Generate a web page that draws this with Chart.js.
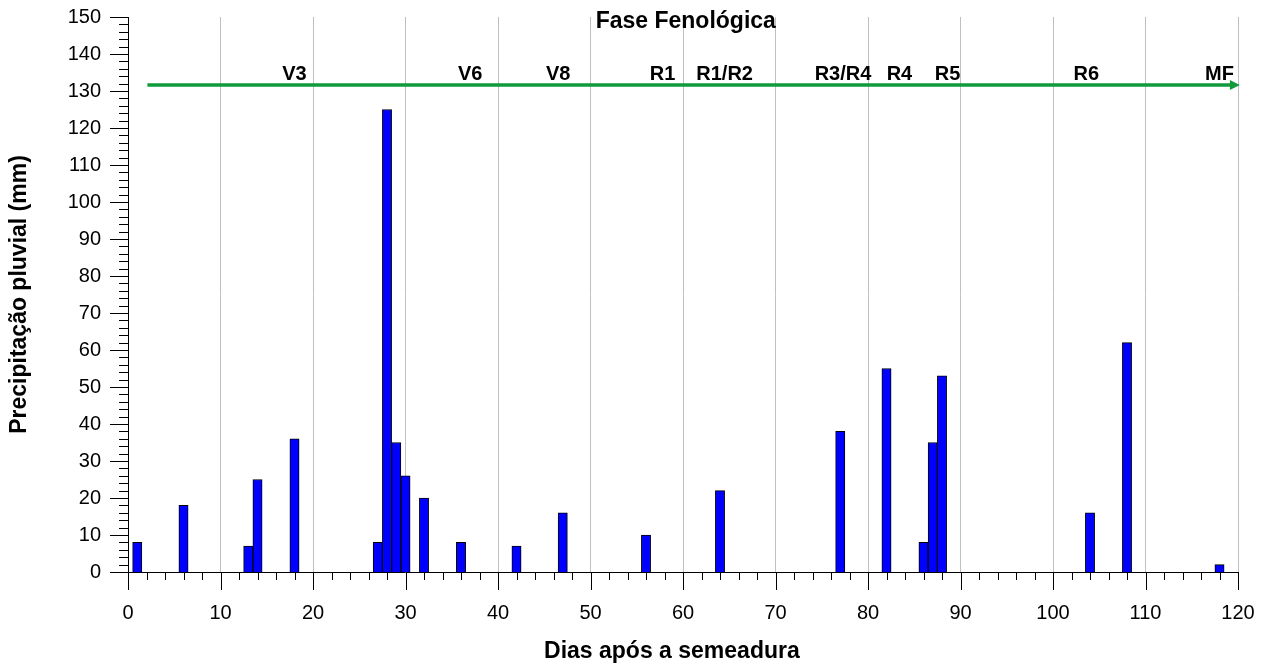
<!DOCTYPE html>
<html>
<head>
<meta charset="utf-8">
<script src="https://cdn.jsdelivr.net/npm/chart.js@4"></script>
<style>
  html, body { margin: 0; padding: 0; background: #fff; }
  #wrap { width: 1269px; height: 666px; }
</style>
</head>
<body>
<div id="wrap"><canvas id="rainChart" width="1269" height="666"></canvas></div>
<script>
// Rainfall per day after sowing (mm)
const rainDays = [1, 6, 13, 14, 18, 27, 28, 29, 30, 32, 36, 42, 47, 56, 64, 77, 82, 86, 87, 88, 104, 108, 118];
const rainMm = [8, 18, 7, 25, 36, 8, 125, 35, 26, 20, 8, 7, 16, 10, 22, 38, 55, 8, 35, 53, 16, 62, 2];

// Phenological stages along the arrow
const phaseLabels = ["V3", "V6", "V8", "R1", "R1/R2", "R3/R4", "R4", "R5", "R6", "MF"];
const phaseDays = [18, 37, 46.5, 57.8, 64.5, 77.3, 83.4, 88.6, 103.6, 118];
const phaseLabelY = 134.5;
const arrowStart = 2.1;
const arrowEnd = 120.2;
const arrowY = 131.6;
const phaseTitle = "Fase Fenológica";
const xTitle = "Dias após a semeadura";

const FONT = "'Liberation Sans', Arial, sans-serif";
Chart.defaults.font.family = FONT;
Chart.defaults.color = "#000";

// major/minor tick marks drawn outside the axes
const tickMarks = {
  id: "tickMarks",
  afterDraw(chart) {
    const { ctx, scales: { x, y } } = chart;
    ctx.save();
    ctx.strokeStyle = "#000";
    ctx.lineWidth = 1;
    ctx.beginPath();
    x.ticks.forEach((t) => {
      const px = Math.round(x.getPixelForValue(t.value)) + 0.5;
      const len = t.value % 10 === 0 ? 18 : 8;
      ctx.moveTo(px, y.bottom);
      ctx.lineTo(px, y.bottom + len);
    });
    y.ticks.forEach((t) => {
      const py = Math.round(y.getPixelForValue(t.value)) + 0.5;
      const len = t.value % 10 === 0 ? 18 : 9;
      ctx.moveTo(x.left, py);
      ctx.lineTo(x.left - len, py);
    });
    ctx.stroke();

    // x axis title, a bit left of the plot centre
    ctx.fillStyle = "#000";
    ctx.font = "bold 23px " + FONT;
    ctx.textAlign = "center";
    ctx.textBaseline = "middle";
    ctx.fillText(xTitle, x.getPixelForValue(58.8), 652);
    ctx.restore();
  },
};

// green stage arrow with labels
const phaseArrow = {
  id: "phaseArrow",
  afterDatasetsDraw(chart) {
    const { ctx, scales: { x, y } } = chart;
    const x0 = x.getPixelForValue(arrowStart);
    const x1 = x.getPixelForValue(arrowEnd);
    const ay = y.getPixelForValue(arrowY);
    ctx.save();
    ctx.strokeStyle = "#109a3c";
    ctx.fillStyle = "#109a3c";
    ctx.lineWidth = 3.5;
    ctx.beginPath();
    ctx.moveTo(x0, ay);
    ctx.lineTo(x1 - 8, ay);
    ctx.stroke();
    ctx.beginPath();
    ctx.moveTo(x1, ay);
    ctx.lineTo(x1 - 10, ay - 5);
    ctx.lineTo(x1 - 10, ay + 5);
    ctx.closePath();
    ctx.fill();

    ctx.fillStyle = "#000";
    ctx.font = "bold 20px " + FONT;
    ctx.textAlign = "center";
    ctx.textBaseline = "middle";
    phaseLabels.forEach((lbl, i) => {
      ctx.fillText(lbl, x.getPixelForValue(phaseDays[i]), y.getPixelForValue(phaseLabelY));
    });
    ctx.font = "bold 23px " + FONT;
    ctx.fillText(phaseTitle, x.getPixelForValue(60.3), y.getPixelForValue(148.8));
    ctx.restore();
  },
};

const ctx = document.getElementById("rainChart").getContext("2d");
new Chart(ctx, {
  type: "bar",
  data: {
    datasets: [
      {
        data: rainDays.map((d, i) => ({ x: d, y: rainMm[i] })),
        backgroundColor: "#0000ff",
        borderColor: "#000",
        borderWidth: 1,
        barPercentage: 1,
        categoryPercentage: 1,
      },
    ],
  },
  options: {
    responsive: false,
    animation: false,
    layout: { padding: { top: 17, right: 31, left: 0, bottom: 0 } },
    plugins: { legend: { display: false }, tooltip: { enabled: false } },
    scales: {
      x: {
        type: "linear",
        min: 0,
        max: 120,
        offset: false,
        afterFit: (s) => {
          s.height = 94;
          s.paddingLeft = 0;
          s.paddingRight = 0;
        },
        grid: {
          offset: false,
          drawTicks: false,
          color: (c) => (c.tick && c.tick.value % 10 === 0 ? "#c0c0c0" : "rgba(0,0,0,0)"),
          lineWidth: 1,
        },
        border: { color: "#000", width: 1 },
        ticks: {
          stepSize: 2,
          autoSkip: false,
          maxRotation: 0,
          padding: 29,
          font: { size: 20 },
          callback: (v) => (v % 10 === 0 ? v : ""),
        },
      },
      y: {
        min: 0,
        max: 150,
        afterFit: (s) => {
          s.width = 128;
          s.paddingTop = 0;
          s.paddingBottom = 0;
        },
        grid: { display: false, drawTicks: false },
        border: { color: "#000", width: 1 },
        ticks: {
          stepSize: 2,
          autoSkip: false,
          padding: 27,
          font: { size: 20 },
          callback: (v) => (v % 10 === 0 ? v : ""),
        },
        title: {
          display: true,
          text: "Precipitação pluvial (mm)",
          font: { size: 23, weight: "bold" },
          padding: { top: 6, bottom: 0 },
        },
      },
    },
  },
  plugins: [tickMarks, phaseArrow],
});
</script>
</body>
</html>
